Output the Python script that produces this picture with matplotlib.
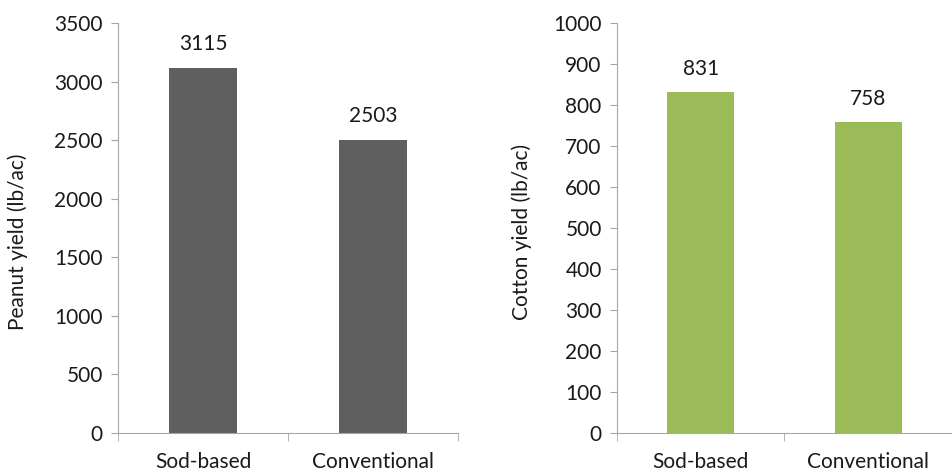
import matplotlib.pyplot as plt

categories = ['Sod-based', 'Conventional']
peanut_yield = [3115, 2503]
cotton_yield = [831, 758]
peanut_ticks = list(range(0, 3501, 500))
cotton_ticks = list(range(0, 1001, 100))

plt.rcParams['font.family'] = ['Lato', 'DejaVu Sans']
plt.rcParams['font.size'] = 15

axis_grey = '#A6A6A6'
text_col = '#1A1A1A'


def draw_panel(ax, values, ticks, colour, ylabel, label_x, label_y):
    x = list(range(len(values)))
    ax.bar(x, values, width=0.4, color=colour)
    ax.set_xlim(-0.5, len(values) - 0.5)
    ax.set_ylim(ticks[0], ticks[-1])
    ax.set_yticks(ticks)
    ax.set_xticks(x)
    ax.set_xticklabels(categories)
    ax.tick_params(axis='x', length=0, pad=14, colors=text_col)
    ax.set_xticks([-0.5, 0.5, 1.5], minor=True)
    ax.tick_params(axis='x', which='minor', length=6, color=axis_grey)
    ax.tick_params(axis='y', length=5, color=axis_grey, labelcolor=text_col, pad=6)
    for side in ['top', 'right']:
        ax.spines[side].set_visible(False)
    for side in ['left', 'bottom']:
        ax.spines[side].set_color(axis_grey)
    ax.set_ylabel(ylabel, color=text_col)
    ax.yaxis.set_label_coords(label_x, label_y)
    for xi, v in zip(x, values):
        ax.annotate(str(v), (xi, v), xytext=(0, 17), textcoords='offset points',
                    ha='center', va='center', color=text_col)


fig = plt.figure(figsize=(9.53, 4.73), dpi=100)
ax1 = fig.add_axes([0.1238, 0.0846, 0.3568, 0.8668])
ax2 = fig.add_axes([0.6474, 0.0846, 0.3515, 0.8668])

draw_panel(ax1, peanut_yield, peanut_ticks, '#5F5F5F', 'Peanut yield (lb/ac)', -0.265, 0.467)
draw_panel(ax2, cotton_yield, cotton_ticks, '#9BBB59', 'Cotton yield (lb/ac)', -0.253, 0.49)

fig.savefig('out.png', dpi=100)
